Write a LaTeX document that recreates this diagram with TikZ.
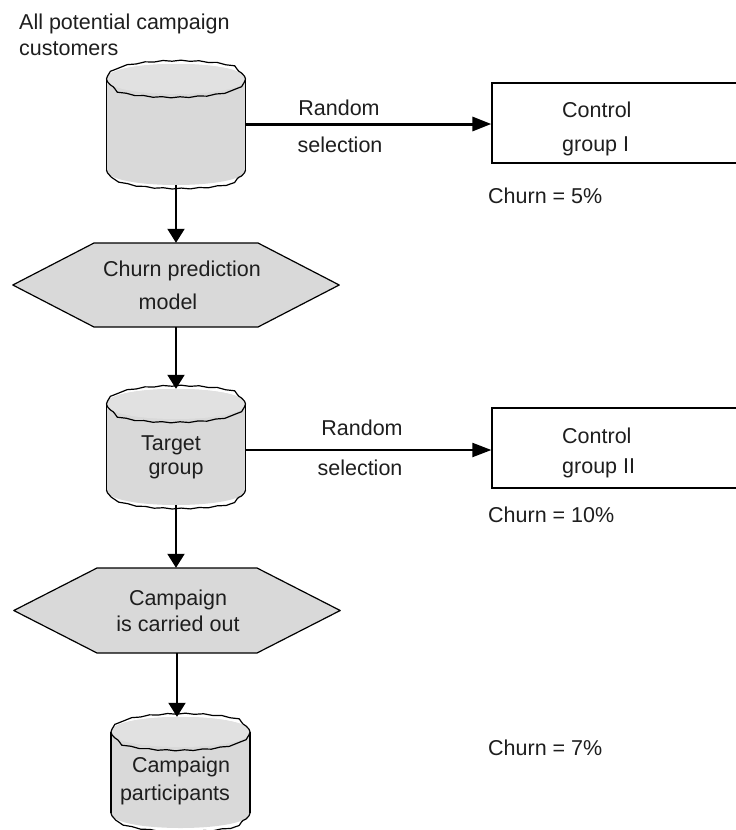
\documentclass[tikz,border=0pt]{standalone}
\usepackage{fontspec}
\setmainfont{Liberation Sans}
\usetikzlibrary{arrows.meta,decorations.pathmorphing}
\definecolor{shapefill}{RGB}{217,217,217}
\definecolor{txt}{RGB}{30,30,30}
\tikzset{
  lbl/.style={inner sep=0pt, text=txt, font=\fontsize{21.5}{25}\selectfont},
  holder/.style={draw=none, inner sep=0pt, rectangle},
  outline/.style={draw=black, line width=1.2pt, line join=round},
  wavy/.style={decorate, decoration={snake, amplitude=0.5pt, segment length=18pt, pre length=3pt, post length=3pt}},
  shapebody/.style={fill=shapefill},
  conn/.style={draw=black, line width=2pt, -{Triangle[length=14pt,width=17pt]}},
  hconn/.style={draw=black, line width=2pt, -{Triangle[length=19pt,width=14pt]}},
  boxshape/.style={draw=black, line width=1.2pt, inner sep=0pt, rectangle}
}
% cylinder: name, left, right, top, bottom
\newcommand{\mycyl}[5]{%
  \node[holder, minimum width={#3-#2}, minimum height={#5-#4}] (#1) at ({(#2+#3)/2},{(#4+#5)/2}) {};
  \path[shapebody] (#2,#4+15) -- (#2,#5-15) .. controls (#2,#5+5) and (#3,#5+5) .. (#3,#5-15)
     -- (#3,#4+15) .. controls (#3,#4-5) and (#2,#4-5) .. (#2,#4+15) -- cycle;
  \draw[outline] (#2,#4+15) -- (#2,#5-15);
  \draw[outline] (#3,#4+15) -- (#3,#5-15);
  \draw[outline, wavy] (#2,#5-15) .. controls (#2,#5+5) and (#3,#5+5) .. (#3,#5-15);
  \fill[shapefill!80!white] (#2,#4+15) .. controls (#2,#4-5) and (#3,#4-5) .. (#3,#4+15)
     .. controls (#3,#4+35) and (#2,#4+35) .. (#2,#4+15) -- cycle;
  \draw[outline, wavy] (#2,#4+15) .. controls (#2,#4-5) and (#3,#4-5) .. (#3,#4+15);
  \draw[outline, wavy] (#3,#4+15) .. controls (#3,#4+35) and (#2,#4+35) .. (#2,#4+15);
}
% hexagon: name, left point, right point, top, bottom, corner offset
\newcommand{\myhex}[6]{%
  \node[holder, minimum width={#3-#2}, minimum height={#5-#4}] (#1) at ({(#2+#3)/2},{(#4+#5)/2}) {};
  \draw[outline, shapebody] (#1.west) -- (#2+#6,#4) -- (#3-#6,#4) -- (#1.east) -- (#3-#6,#5) -- (#2+#6,#5) -- cycle;
}
\begin{document}
\begin{tikzpicture}[x=1pt,y=-1pt]
\useasboundingbox (0,0) rectangle (736,830);
\clip (0,0) rectangle (736,830);
\fill[white] (0,0) rectangle (736,830);

% title
\node[lbl, anchor=base west] (t1) at (19,29) {All potential campaign};
\node[lbl, anchor=base west] (t2) at (19,55) {customers};

% shapes
\mycyl{c1}{106.5}{245.5}{64}{185}
\myhex{h1}{13}{339}{243}{327}{81}
\mycyl{c2}{106.5}{245.5}{389}{505}
\myhex{h2}{14}{340}{568}{653}{83}
\mycyl{c3}{111}{250}{717}{828}

% control boxes (extend beyond right edge)
\node[boxshape, minimum width=252pt, minimum height=80pt] (b1) at (618,123) {};
\node[boxshape, minimum width=252pt, minimum height=80pt] (b2) at (618,448) {};

% connectors
\draw[conn] (c1.south) -- (c1.south |- h1.north);
\draw[conn] (h1.south) -- (h1.south |- c2.north);
\draw[conn] (c2.south) -- (c2.south |- h2.north);
\draw[conn] (h2.south) -- (h2.south |- c3.north);
\draw[hconn, line width=3pt] ([yshift=0.5pt]c1.east) -- ([yshift=0.5pt]c1.east -| b1.west);
\draw[hconn] ([yshift=-3pt]c2.east) -- ([yshift=-3pt]c2.east -| b2.west);

% labels
\node[lbl, anchor=base] (r1) at (339,115) {Random};
\node[lbl, anchor=base] (s1) at (340,152) {selection};
\node[lbl, anchor=base west] (k1) at (562,117) {Control};
\node[lbl, anchor=base west] (g1) at (562,151) {group I};
\node[lbl, anchor=base west] (p1) at (488,203) {Churn = 5\%};

\node[lbl, anchor=base] (m1) at (182,276) {Churn prediction};
\node[lbl, anchor=base] (m2) at (168,309) {model};

\node[lbl, anchor=base] (tg1) at (171,450) {Target};
\node[lbl, anchor=base] (tg2) at (176,474) {group};

\node[lbl, anchor=base] (r2) at (362,435) {Random};
\node[lbl, anchor=base] (s2) at (360,475) {selection};
\node[lbl, anchor=base west] (k2) at (562,443) {Control};
\node[lbl, anchor=base west] (g2) at (562,473) {group II};
\node[lbl, anchor=base west] (p2) at (488,522) {Churn = 10\%};

\node[lbl, anchor=base] (cp1) at (178,605) {Campaign};
\node[lbl, anchor=base] (cp2) at (178,631) {is carried out};

\node[lbl, anchor=base] (pa1) at (181,772) {Campaign};
\node[lbl, anchor=base] (pa2) at (175,800) {participants};
\node[lbl, anchor=base west] (p3) at (488,755) {Churn = 7\%};
\end{tikzpicture}
\end{document}
